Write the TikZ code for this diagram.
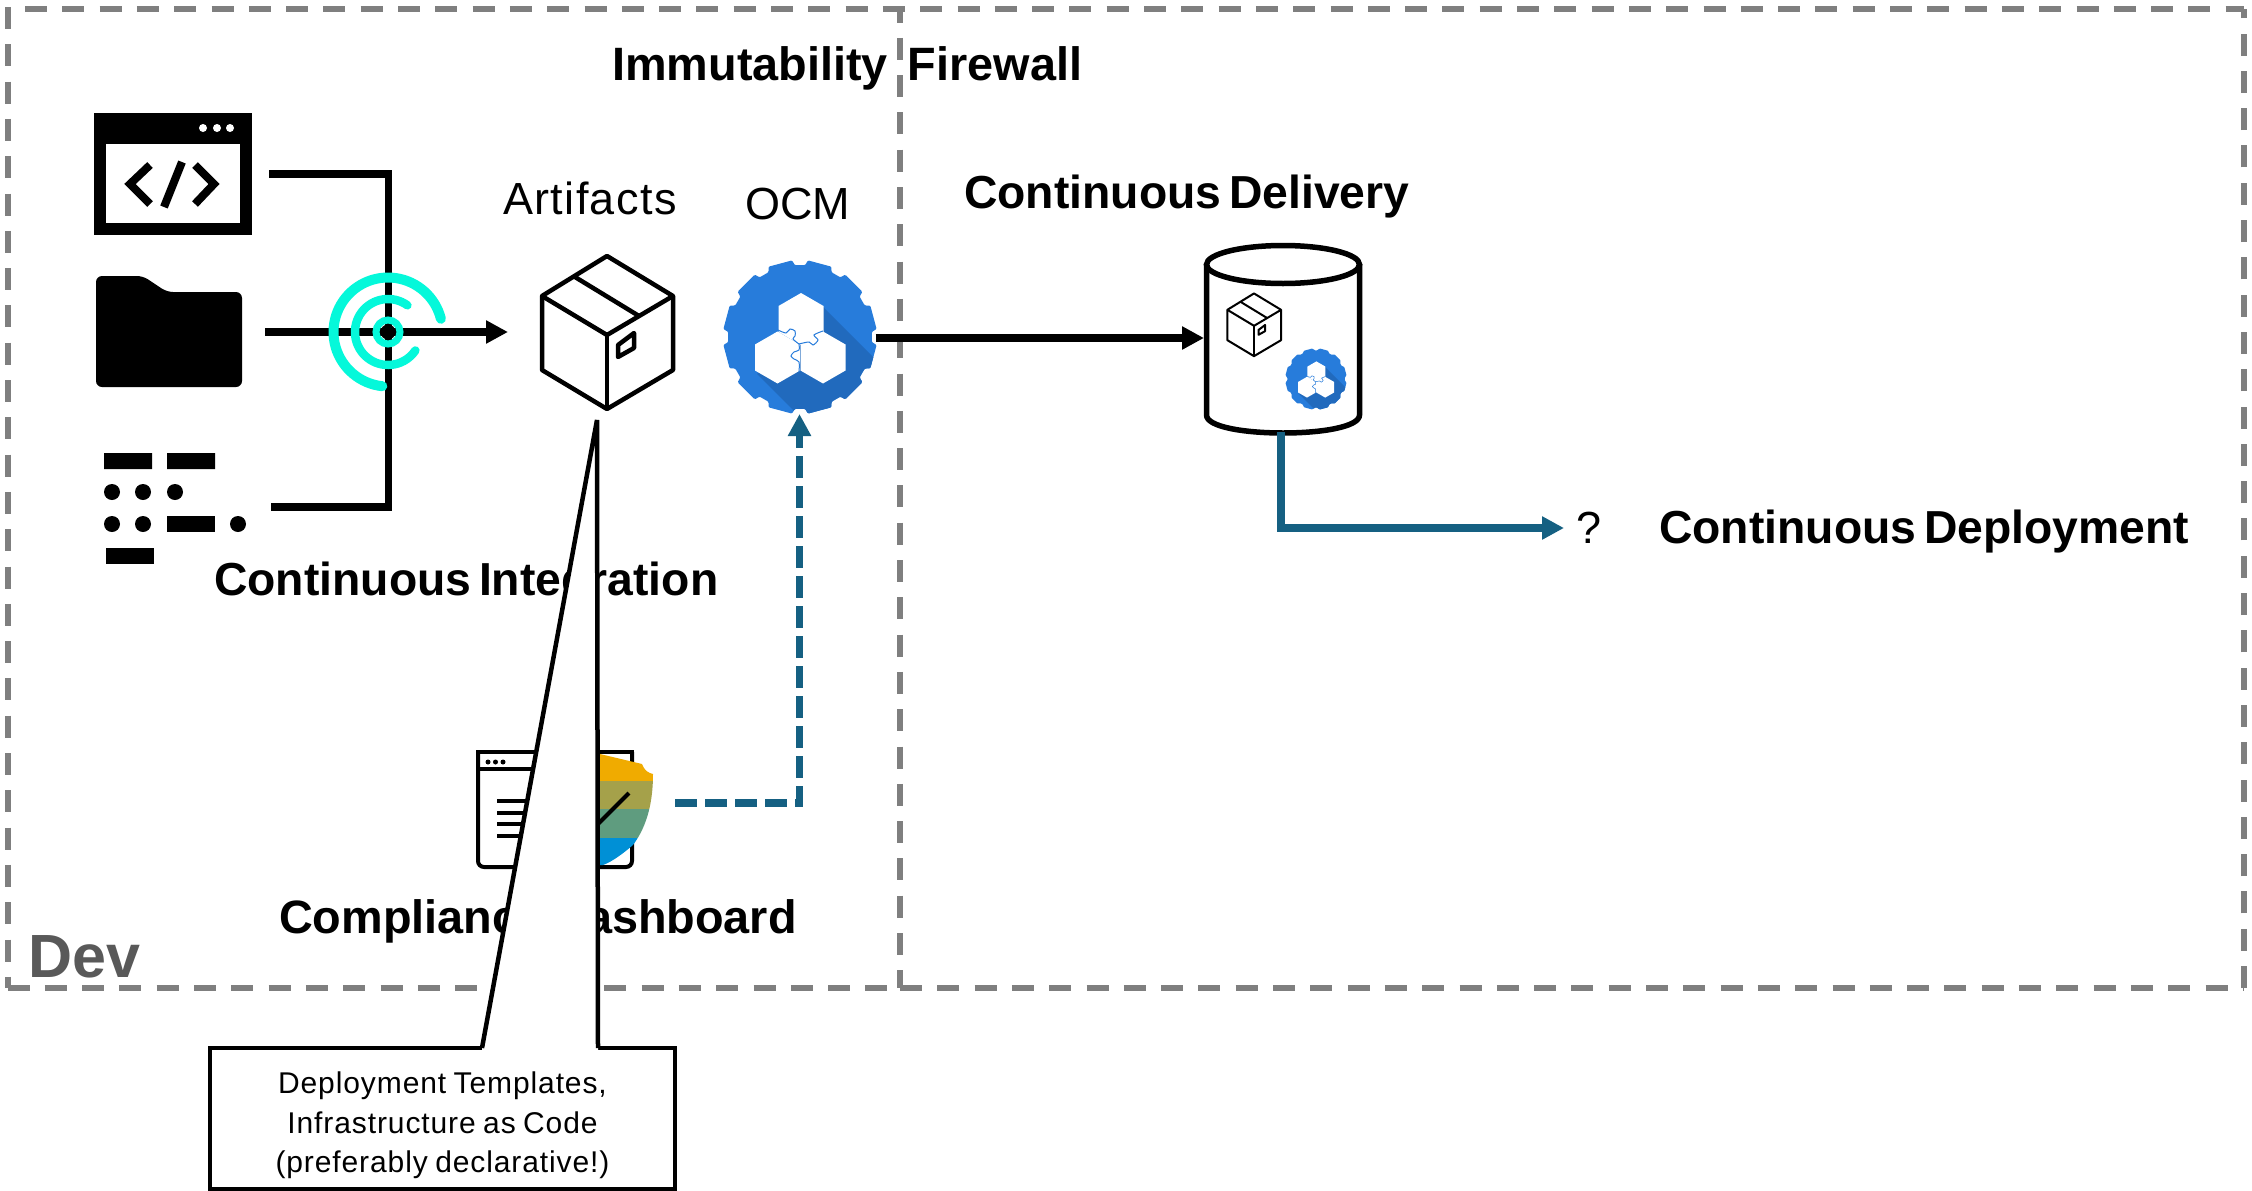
\documentclass[tikz,border=0pt]{standalone}
\usepackage{fontspec}
\setmainfont{Liberation Sans}
\newfontfamily\regfont[LetterSpace=3,WordSpace=0.8]{Liberation Sans}
\newfontfamily\tightfont{Liberation Sans}
\newfontfamily\headfont[WordSpace=0.6]{Liberation Sans Bold}
\usetikzlibrary{arrows.meta}
\definecolor{gearblue}{HTML}{277CDB}
\definecolor{gearshade}{HTML}{216ABD}
\definecolor{regiongray}{HTML}{7F7F7F}
\definecolor{flowblue}{HTML}{156082}
\definecolor{ringteal}{HTML}{05F8DA}
\definecolor{devgray}{HTML}{595959}
\definecolor{bandone}{HTML}{F0AB00}
\definecolor{bandtwo}{HTML}{A5A14A}
\definecolor{bandthree}{HTML}{5F9C7F}
\definecolor{bandfour}{HTML}{0090D6}
\tikzset{
  wire/.style={line width=7.5pt,black,line join=miter},
  wirehead/.style={-{Triangle[length=22pt,width=22pt]}},
  flow/.style={line width=7.5pt,flowblue,line join=miter,-{Triangle[length=22pt,width=22pt]}},
  flowdash/.style={flow,dash pattern=on 22pt off 8pt},
  region/.style={line width=5.5pt,regiongray,dash pattern=on 22pt off 15.3pt},
  holder/.style={inner sep=0pt,outer sep=0pt},
  head/.style={anchor=base west,inner sep=0pt,font=\headfont\fontsize{46.3}{48}\selectfont},
  plain/.style={anchor=base west,inner sep=0pt,font=\regfont\fontsize{45}{48}\selectfont},
  callout/.style={draw=black,fill=white,line width=4.5pt,inner sep=0pt,align=center,
    minimum width=465pt,minimum height=141pt,
    font=\regfont\fontsize{30}{39.5}\selectfont},
  ring/.style={ringteal,line cap=round}
}
\newcommand{\boxicon}[4]{%
  \begin{scope}[shift={(#1,#2)},scale=#3,line width=#4,line join=round,black]
    \draw (0,-77) -- (66,-37) -- (66,37) -- (0,76) -- (-65,37) -- (-65,-37) -- cycle;
    \draw (-65,-37) -- (0,2) -- (66,-37);
    \draw (0,2) -- (0,76);
    \draw (-32,-56) -- (32,-17);
    \draw (11,12) -- (27,0) -- (27,15) -- (11,24) -- cycle;
  \end{scope}}
\newcommand{\gearpath}{(0:72)
  \foreach \a in {15,45,...,345} { -- (\a-11:72) -- (\a-9:77) -- (\a+9:77) -- (\a+11:72)} -- cycle}
\newcommand{\hexat}[2]{(#1+22.5,#2-13) -- (#1,#2-26) -- (#1-22.5,#2-13) -- (#1-22.5,#2+13) -- (#1,#2+26) -- (#1+22.5,#2+13) -- cycle}
\newcommand{\ocmicon}[4]{%
  \begin{scope}[shift={(#1,#2)},scale=#3]
    \fill[gearblue,rounded corners=1pt] \gearpath;
    \begin{scope}
      \clip[rounded corners=1pt] \gearpath;
      \fill[gearshade] (23,-30) -- (130,77) -- (60,140) -- (-43,37) -- cycle;
    \end{scope}
    \fill[white] \hexat{1}{-18};
    \fill[white] \hexat{-22.5}{20.5};
    \fill[white] \hexat{23}{20.5};
    \draw[gearblue,line width=#4] plot[smooth] coordinates {(-22,-7) (-14,-4) (-10,-8) (-5,-6) (-5,-1) (-7,2) (-1,7)};
    \draw[gearblue,line width=#4] plot[smooth] coordinates {(-1,7) (9,5) (13,8) (18,3) (14,-2) (23,-6)};
    \draw[gearblue,line width=#4] plot[smooth] coordinates {(-1,7) (-1,13) (-6,15) (-9,19) (-6,22) (-1,25) (-1,35)};
  \end{scope}}
\begin{document}
\begin{tikzpicture}[x=1pt,y=-1pt]
\useasboundingbox (0,0) rectangle (2252,1191);
\fill[white] (0,0) rectangle (2252,1191);

% regions
\draw[region] (8,7) -- (8,988);
\draw[region] (25,9) -- (2244,9);
\draw[region,dash phase=7.5pt] (900,8) -- (900,988);
\draw[region] (7.5,988) -- (900,988);
\draw[region] (900,988) -- (2244,988);
\draw[region] (2244,988) -- (2244,9);

% texts under the callout
\node[head,font=\headfont\fontsize{46.8}{48}\selectfont] (firewall) at (612,80) {Immutability\hspace{0.43em}Firewall};
\node[anchor=base west,inner sep=0pt,text=devgray,font=\headfont\fontsize{61}{63}\selectfont] (dev) at (28,977) {Dev};
\node[head] (ci) at (214,595) {Continuous Integration};
\node[head] (cd) at (964,208) {Continuous Delivery};
\node[head] (cdep) at (1659,543) {Continuous Deployment};
\node[head,font=\headfont\fontsize{46.8}{48}\selectfont] (comp) at (279,933) {Compliance Dashboard};
\node[plain] (artifacts) at (503,214) {Artifacts};
\node[plain,font=\tightfont\fontsize{45}{48}\selectfont] (ocmlabel) at (745,219) {OCM};
\node[plain] (question) at (1576,543) {?};

% code window
\fill[black] (94,113) rectangle (252,235);
\fill[white] (106,144) rectangle (240,223);
\fill[white] (203,128) circle (4) (217,128) circle (4) (230,128) circle (4);
\draw[black,line width=8pt,line join=miter] (150,165) -- (130,184) -- (150,204);
\draw[black,line width=8pt,line join=miter] (195,165) -- (214,184) -- (195,204);
\draw[black,line width=8pt] (182,162) -- (164,207);

% folder
\fill[black,rounded corners=6pt] (96,276) -- (143,276) -- (167,292) -- (242,292) -- (242,387) -- (96,387) -- cycle;

% morse
\fill[black] (104,453) rectangle (152,469) (167,453) rectangle (215,469);
\fill[black] (112,492) circle (8) (143,492) circle (8) (175,492) circle (8);
\fill[black] (112,524) circle (8) (143,524) circle (8) (238,524) circle (8);
\fill[black] (167,516) rectangle (215,532);
\fill[black] (106,548) rectangle (154,564);

% pipeline connectors
\node[holder] (hub) at (388.5,332) {};
\coordinate (codeout) at (269,174);
\coordinate (folderout) at (265,332);
\coordinate (morseout) at (271,507);
\coordinate (artin) at (508,332);
\draw[wire] (codeout) -| (hub) |- (morseout);
\draw[wire,wirehead] (folderout) -- (artin);

% target
\fill[black] (388,332) circle (7.5);
\draw[ring,line width=7pt] (388,332) circle (12);
\draw[ring,line width=8.5pt] plot[smooth,domain=54:326,samples=50] ({388+33*cos(\x)},{332-33*sin(\x)});
\draw[ring,line width=10pt] plot[smooth,domain=14:264,samples=60] ({388+54.5*cos(\x)},{332-54.5*sin(\x)});

% artifact box
\node[holder,minimum width=131pt,minimum height=153pt] (artifact) at (607,333) {};
\boxicon{607}{333}{1}{4.5pt}

% OCM gear
\node[holder,circle,minimum size=152pt] (ocm) at (799.5,338) {};
\ocmicon{800}{337}{1}{1pt}

% delivery store
\node[holder,minimum width=158pt,minimum height=194pt] (db) at (1283,338) {};
\draw[black,line width=5.5pt,fill=white] (1206.5,264) -- (1206.5,415) .. controls (1206.5,439) and (1359.5,439) .. (1359.5,415) -- (1359.5,264);
\draw[black,line width=5.5pt,fill=white] (1283,264.5) ellipse [x radius=76.5pt,y radius=19pt];
\boxicon{1254}{325}{0.41}{2pt}
\ocmicon{1316}{379}{0.4}{0.5pt}

\draw[wire,wirehead] (ocm.east) -- (db.west);
\coordinate (dbout) at (1281,432);
\coordinate (questionin) at (1564,528);
\draw[flow] (dbout) |- (questionin);

% compliance
\node[holder,minimum width=198pt,minimum height=116pt] (compliance) at (576,803) {};
\draw[black,line width=4pt,rounded corners=6pt] (478,752) -- (478,867) -- (632,867) -- (632,752);
\draw[black,line width=4pt] (476,752) -- (634,752);
\draw[black,line width=4pt] (478,769) -- (632,769);
\fill[black] (488,762) circle (2.5) (495.5,762) circle (2.5) (503,762) circle (2.5);
\foreach \yy in {801,813,824,836} \draw[black,line width=4pt] (497,\yy) -- (560,\yy);
\begin{scope}
  \clip (600,754) -- (642,764) .. controls (644,770) and (648,773) .. (653,774) .. controls (653,800) and (648,825) .. (633,845) .. controls (625,852) and (612,862) .. (603,865) -- (560,865) -- (560,754) -- cycle;
  \fill[bandone] (555,750) rectangle (660,781);
  \fill[bandtwo] (555,781) rectangle (660,809);
  \fill[bandthree] (555,809) rectangle (660,838);
  \fill[bandfour] (555,838) rectangle (660,870);
\end{scope}
\draw[black,line width=4pt] (629,793) -- (590,832);
\draw[flowdash] (compliance.east) -| (ocm.south);

% callout
\node[callout] (note) at (442.5,1118.5) {\rule{0pt}{36pt}Deployment Templates,\\Infrastructure as Code\\(preferably declarative!)};
\coordinate (apex) at (597,420);
\coordinate (footl) at (482,1048);
\coordinate (footr) at (598,1048);
\fill[white] (apex) -- (footr) -- (598,1051) -- (482,1051) -- (footl) -- cycle;
\draw[black,line width=4.5pt,line join=miter] (footl) -- (apex) -- (footr);
\end{tikzpicture}
\end{document}
